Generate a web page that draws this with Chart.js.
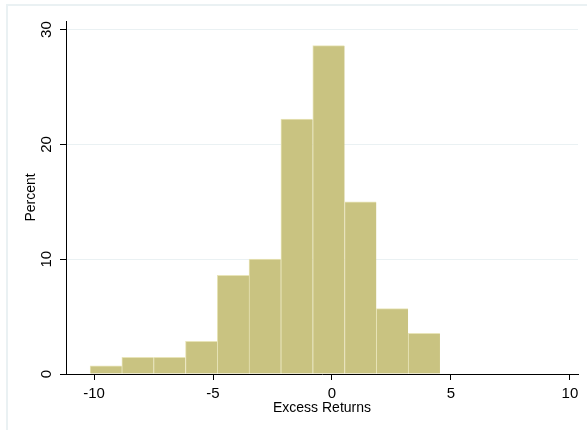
<!DOCTYPE html>
<html>
<head>
<meta charset="utf-8">
<script src="https://cdn.jsdelivr.net/npm/chart.js@4"></script>
<style>
  html, body { margin: 0; padding: 0; background: #fff; }
  #wrap { position: relative; width: 587px; height: 430px; }
</style>
</head>
<body>
<div id="wrap"><canvas id="hist" width="587" height="430"></canvas></div>
<script>
// ── HISTOGRAM OF EXCESS RETURNS ──

const FONT       = "'Liberation Sans', Arial, sans-serif";
const BAR_FILL   = 'rgb(201,195,129)';
const BAR_EDGE   = 'rgb(232,228,184)';
const GRID_COLOR = '#eaf1f3';

// bin edges (12 edges -> 11 bins)
const binEdges = [-10.17, -8.83, -7.50, -6.16, -4.82, -3.49, -2.15, -0.81, 0.53, 1.86, 3.20, 4.54];
// percent in each bin
const binPercent = [0.72, 1.45, 1.45, 2.85, 8.6, 10.0, 22.2, 28.6, 15.0, 5.7, 3.55];

const xTicks = [-10, -5, 0, 5, 10];
const yTicks = [0, 10, 20, 30];

const points = binPercent.map((p, i) => ({ x: (binEdges[i] + binEdges[i + 1]) / 2, y: p }));

// light frame of the graph region
const framePlugin = {
  id: 'frame',
  beforeDraw(chart) {
    const { ctx, width, height } = chart;
    ctx.save();
    ctx.fillStyle = '#fff';
    ctx.fillRect(0, 0, width, height);
    ctx.strokeStyle = GRID_COLOR;
    ctx.lineWidth = 2;
    ctx.beginPath();
    ctx.moveTo(7, height);
    ctx.lineTo(7, 5);
    ctx.lineTo(width, 5);
    ctx.stroke();
    ctx.restore();
  }
};

// y tick labels turned on their side, as Stata draws them
const yLabelPlugin = {
  id: 'yLabels',
  afterDraw(chart) {
    const { ctx } = chart;
    const y = chart.scales.y;
    ctx.save();
    ctx.font = `15px ${FONT}`;
    ctx.fillStyle = '#000';
    ctx.textAlign = 'center';
    ctx.textBaseline = 'middle';
    yTicks.forEach(v => {
      ctx.save();
      ctx.translate(y.right - 19, y.getPixelForValue(v));
      ctx.rotate(-Math.PI / 2);
      ctx.fillText(String(v), 0, 0);
      ctx.restore();
    });
    ctx.restore();
  }
};

new Chart(document.getElementById('hist'), {
  type: 'bar',
  data: {
    datasets: [{
      label: 'Percent',
      data: points,
      backgroundColor: BAR_FILL,
      borderColor: BAR_EDGE,
      borderWidth: { top: 1, left: 1, right: 0, bottom: 0 },
      borderSkipped: false,
      barPercentage: 1,
      categoryPercentage: 1
    }]
  },
  options: {
    responsive: false,
    animation: false,
    layout: { padding: { left: 0, top: 21, right: 9, bottom: 0 } },
    plugins: {
      legend: { display: false },
      tooltip: { enabled: false }
    },
    scales: {
      x: {
        type: 'linear',
        min: -11.18,
        max: 10.34,
        offset: false,
        afterBuildTicks: s => { s.ticks = xTicks.map(v => ({ value: v })); },
        afterFit: s => { s.height = 56; },
        border: { color: '#000', width: 1 },
        grid: { offset: false, drawOnChartArea: false, tickColor: '#000', tickLength: 6 },
        ticks: {
          font: { family: FONT, size: 15 },
          color: '#000',
          padding: 5,
          maxRotation: 0,
          callback: v => String(v)
        },
        title: {
          display: true,
          text: 'Excess Returns',
          font: { family: FONT, size: 14 },
          color: '#000',
          padding: { top: 0, bottom: 13 }
        }
      },
      y: {
        min: 0,
        max: 30.75,
        afterBuildTicks: s => { s.ticks = yTicks.map(v => ({ value: v })); },
        afterFit: s => { s.width = 66; },
        border: { color: '#000', width: 1 },
        grid: { color: GRID_COLOR, tickColor: '#000', tickLength: 6, lineWidth: 1 },
        ticks: { color: 'rgba(0,0,0,0)', font: { family: FONT, size: 14 } },
        title: {
          display: true,
          text: 'Percent',
          font: { family: FONT, size: 14 },
          color: '#000',
          padding: { top: 23, bottom: 0 }
        }
      }
    }
  },
  plugins: [framePlugin, yLabelPlugin]
});
</script>
</body>
</html>
